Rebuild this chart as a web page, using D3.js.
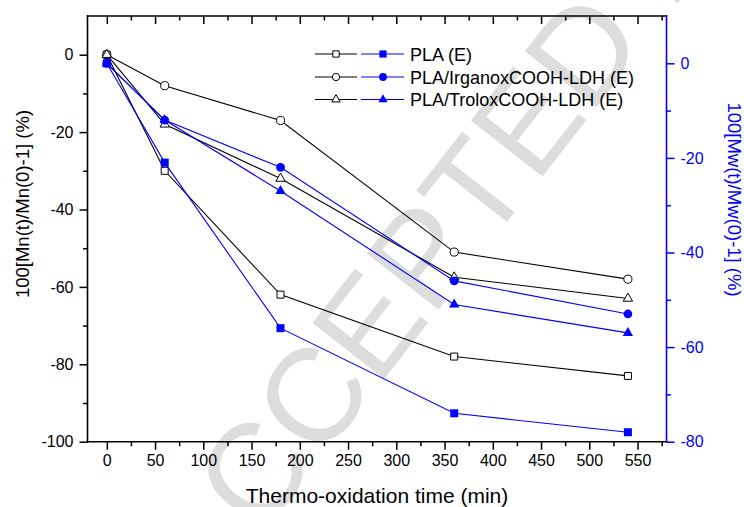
<!DOCTYPE html>
<html>
<head>
<meta charset="utf-8">
<script src="https://cdn.jsdelivr.net/npm/d3@7"></script>
<style>
  body { margin: 0; background: #fff; }
  svg { display: block; }
  text { font-family: "Liberation Sans", Arial, sans-serif; }
</style>
</head>
<body>
<svg id="chart" width="744" height="507"></svg>
<script>
// Thermo-oxidation time (min)
const times = [0, 60, 180, 360, 540];

// Legend entries
const seriesNames = ["PLA (E)", "PLA/IrganoxCOOH-LDH (E)", "PLA/TroloxCOOH-LDH (E)"];

// Number-average molar mass change, 100[Mn(t)/Mn(0)-1] (%) - left axis
const mnPLA      = [0, -30, -62, -78, -83];
const mnIrganox  = [0, -8, -17, -51, -58];
const mnTrolox   = [0, -18, -32, -57.5, -63];

// Weight-average molar mass change, 100[Mw(t)/Mw(0)-1] (%) - right axis
const mwPLA      = [0, -21, -56, -74, -78];
const mwIrganox  = [0, -12, -22, -46, -53];
const mwTrolox   = [0, -12, -27, -51, -57];

// Tick values
const xTicks      = [0, 50, 100, 150, 200, 250, 300, 350, 400, 450, 500, 550];
const xMinorTicks = [25, 75, 125, 175, 225, 275, 325, 375, 425, 475, 525, 575];
const leftTicks      = [0, -20, -40, -60, -80, -100];
const leftMinorTicks = [-10, -30, -50, -70, -90];
const rightTicks      = [0, -20, -40, -60, -80];
const rightMinorTicks = [-10, -30, -50, -70];

const BLUE = "#0000ff";
const svg = d3.select("#chart");

const margin = { left: 87.5, right: 666.5, top: 16, bottom: 441.7 };

const x = d3.scaleLinear().domain([-20, 580]).range([margin.left, margin.right]);
const yLeft = d3.scaleLinear().domain([-100, 10]).range([margin.bottom, margin.top]);
const yRight = d3.scaleLinear().domain([-80, 10]).range([margin.bottom, margin.top]);

// Background watermark
svg.append("text")
  .attr("transform", "translate(206,607) rotate(-52)")
  .attr("font-family", "'Liberation Serif', 'Times New Roman', serif")
  .attr("font-size", 132)
  .attr("fill", "#dddddd")
  .text("ACCEPTED MANUSCRIPT");

// Axes helpers
function styleAxis(g, color) {
  g.select(".domain").remove();
  g.selectAll("line").attr("stroke", color).attr("stroke-width", 1.5);
  g.selectAll("text").attr("fill", color).attr("font-size", 16)
    .attr("font-family", "'Liberation Sans', Arial, sans-serif");
}

// Bottom axis
const gBottom = svg.append("g").attr("transform", `translate(0,${margin.bottom})`);
gBottom.call(d3.axisBottom(x).tickValues(xTicks).tickSize(8).tickPadding(4).tickFormat(d3.format("d")));
styleAxis(gBottom, "#000");
gBottom.selectAll("text").attr("dy", "0.78em");
svg.append("g").attr("transform", `translate(0,${margin.bottom})`)
  .call(d3.axisBottom(x).tickValues(xMinorTicks).tickSize(4.5).tickFormat(""))
  .call(g => styleAxis(g, "#000"));

// Top axis (ticks inward)
svg.append("g").attr("transform", `translate(0,${margin.top})`)
  .call(d3.axisBottom(x).tickValues(xTicks).tickSize(8).tickFormat(""))
  .call(g => styleAxis(g, "#000"));
svg.append("g").attr("transform", `translate(0,${margin.top})`)
  .call(d3.axisBottom(x).tickValues(xMinorTicks).tickSize(4.5).tickFormat(""))
  .call(g => styleAxis(g, "#000"));

// Left axis
const gLeft = svg.append("g").attr("transform", `translate(${margin.left},0)`);
gLeft.call(d3.axisLeft(yLeft).tickValues(leftTicks).tickSize(8).tickPadding(6).tickFormat(d => String(d)));
styleAxis(gLeft, "#000");
svg.append("g").attr("transform", `translate(${margin.left},0)`)
  .call(d3.axisLeft(yLeft).tickValues(leftMinorTicks).tickSize(4.5).tickFormat(""))
  .call(g => styleAxis(g, "#000"));

// Right axis (blue)
const gRight = svg.append("g").attr("transform", `translate(${margin.right},0)`);
gRight.call(d3.axisRight(yRight).tickValues(rightTicks).tickSize(8).tickPadding(6).tickFormat(d => String(d)));
styleAxis(gRight, BLUE);
svg.append("g").attr("transform", `translate(${margin.right},0)`)
  .call(d3.axisRight(yRight).tickValues(rightMinorTicks).tickSize(4.5).tickFormat(""))
  .call(g => styleAxis(g, BLUE));

// Frame lines
const frame = svg.append("g").attr("stroke-width", 1.6).attr("stroke-linecap", "square");
frame.append("line").attr("x1", margin.left).attr("x2", margin.right)
  .attr("y1", margin.top).attr("y2", margin.top).attr("stroke", "#000");
frame.append("line").attr("x1", margin.left).attr("x2", margin.right)
  .attr("y1", margin.bottom).attr("y2", margin.bottom).attr("stroke", "#000");
frame.append("line").attr("x1", margin.left).attr("x2", margin.left)
  .attr("y1", margin.top).attr("y2", margin.bottom).attr("stroke", "#000");
frame.append("line").attr("x1", margin.right).attr("x2", margin.right)
  .attr("y1", margin.top).attr("y2", margin.bottom).attr("stroke", BLUE);

// Axis titles
svg.append("text")
  .attr("transform", `translate(29,204) rotate(-90)`)
  .attr("text-anchor", "middle").attr("font-size", 18.5).attr("fill", "#000")
  .text("100[Mn(t)/Mn(0)-1] (%)");
svg.append("text")
  .attr("transform", `translate(727.5,199.5) rotate(90)`)
  .attr("text-anchor", "middle").attr("font-size", 18.5).attr("fill", BLUE)
  .text("100[Mw(t)/Mw(0)-1] (%)");
svg.append("text")
  .attr("x", (margin.left + margin.right) / 2).attr("y", 503)
  .attr("text-anchor", "middle").attr("font-size", 21).attr("fill", "#000")
  .text("Thermo-oxidation time (min)");

// Series definitions
const symbolTypes = [d3.symbolSquare, d3.symbolCircle, d3.symbolTriangle];
const openSizes = [49, 52, 38];
const filledSizes = [64, 60, 46];
const mnSeries = [mnPLA, mnIrganox, mnTrolox];
const mwSeries = [mwPLA, mwIrganox, mwTrolox];

function drawSeries(values, yScale, idx, filled) {
  const color = filled ? BLUE : "#000";
  const pts = times.map((t, i) => [t, values[i]]);
  const line = d3.line().x(d => x(d[0])).y(d => yScale(d[1]));
  svg.append("path").datum(pts)
    .attr("d", line).attr("fill", "none")
    .attr("stroke", color).attr("stroke-width", 1.1);
  svg.append("g").selectAll("path").data(pts).join("path")
    .attr("transform", d => `translate(${x(d[0])},${yScale(d[1])})`)
    .attr("d", d3.symbol().type(symbolTypes[idx]).size(filled ? filledSizes[idx] : openSizes[idx]))
    .attr("fill", filled ? BLUE : "#fff")
    .attr("stroke", filled ? "none" : "#000")
    .attr("stroke-width", 1);
}

mnSeries.forEach((v, i) => drawSeries(v, yLeft, i, false));
mwSeries.forEach((v, i) => drawSeries(v, yRight, i, true));

// Legend
const legendRows = [54, 77, 99.5];
const legend = svg.append("g");
seriesNames.forEach((name, i) => {
  const y = legendRows[i];
  const row = legend.append("g");
  row.append("line").attr("x1", 315).attr("x2", 357).attr("y1", y).attr("y2", y)
    .attr("stroke", "#000").attr("stroke-width", 1.1);
  row.append("path").attr("transform", `translate(336,${y})`)
    .attr("d", d3.symbol().type(symbolTypes[i]).size(openSizes[i] * 0.8))
    .attr("fill", "#fff").attr("stroke", "#000").attr("stroke-width", 1);
  row.append("line").attr("x1", 361).attr("x2", 404).attr("y1", y).attr("y2", y)
    .attr("stroke", BLUE).attr("stroke-width", 1.1);
  row.append("path").attr("transform", `translate(383,${y})`)
    .attr("d", d3.symbol().type(symbolTypes[i]).size(filledSizes[i] * 0.8))
    .attr("fill", BLUE);
  row.append("text").attr("x", 410).attr("y", y + 6.5)
    .attr("font-size", 18).attr("fill", "#000").text(name);
});
</script>
</body>
</html>
